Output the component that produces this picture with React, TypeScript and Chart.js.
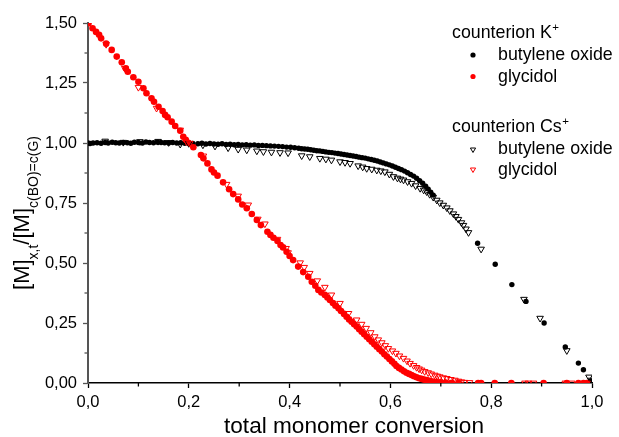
import React, { useEffect, useRef } from 'react';
import { Chart, registerables } from 'chart.js';

Chart.register(...registerables);

const FONT = '"Liberation Sans", Arial, Helvetica, sans-serif';

// ---- axis data ----
const xMinorTicks = [0.1, 0.3, 0.5, 0.7, 0.9];
const yMinorTicks = [0.125, 0.375, 0.625, 0.875, 1.125, 1.375];
const xTitle = 'total monomer conversion';

// ---- counterion K+ : butylene oxide (black filled circles) ----
const kBoX = [
  0.000, 0.004, 0.010, 0.018, 0.026, 0.034, 0.040, 0.048, 0.055, 0.062,
  0.070, 0.078, 0.085, 0.092, 0.100, 0.108, 0.115, 0.122, 0.130, 0.138,
  0.145, 0.152, 0.160, 0.168, 0.176, 0.184, 0.192, 0.200, 0.208, 0.218,
  0.226, 0.234, 0.242, 0.250, 0.258, 0.266, 0.274, 0.282, 0.290, 0.298,
  0.306, 0.314, 0.322, 0.330, 0.338, 0.346, 0.354, 0.362, 0.370, 0.378,
  0.386, 0.394, 0.402, 0.410, 0.418, 0.424, 0.430, 0.436, 0.442, 0.448,
  0.454, 0.460, 0.466, 0.472, 0.478, 0.484, 0.490, 0.496, 0.502, 0.508,
  0.514, 0.520, 0.526, 0.532, 0.538, 0.544, 0.550, 0.556, 0.562, 0.568,
  0.574, 0.580, 0.586, 0.592, 0.598, 0.604, 0.610, 0.616, 0.622, 0.628,
  0.634, 0.640, 0.646, 0.652, 0.658, 0.664, 0.670, 0.675, 0.680, 0.685,
  0.773, 0.808, 0.841, 0.869, 0.905, 0.947, 0.973, 0.983, 0.998,
];
const kBoY = [
  1.000, 0.998, 1.000, 1.001, 0.999, 1.002, 1.000, 1.003, 1.001, 1.000,
  1.002, 1.001, 0.999, 1.003, 1.002, 1.000, 1.004, 1.002, 1.001, 1.003,
  1.002, 1.001, 1.000, 1.002, 1.000, 1.001, 0.999, 1.000, 0.998, 0.997,
  0.999, 0.996, 0.998, 0.996, 0.995, 0.997, 0.994, 0.995, 0.993, 0.994,
  0.992, 0.993, 0.991, 0.992, 0.990, 0.990, 0.989, 0.988, 0.987, 0.986,
  0.985, 0.983, 0.982, 0.980, 0.978, 0.976, 0.975, 0.974, 0.972, 0.970,
  0.968, 0.967, 0.965, 0.963, 0.961, 0.960, 0.958, 0.956, 0.954, 0.952,
  0.950, 0.948, 0.946, 0.944, 0.941, 0.939, 0.937, 0.934, 0.931, 0.928,
  0.925, 0.921, 0.917, 0.913, 0.909, 0.904, 0.899, 0.894, 0.889, 0.883,
  0.876, 0.869, 0.862, 0.853, 0.843, 0.832, 0.820, 0.808, 0.795, 0.783,
  0.582, 0.495, 0.410, 0.340, 0.250, 0.150, 0.083, 0.055, 0.008,
];

// ---- counterion K+ : glycidol (red filled circles) ----
const kGlyX = [
  0.001, 0.009, 0.016, 0.022, 0.026, 0.036, 0.047, 0.057, 0.067, 0.075,
  0.079, 0.090, 0.100, 0.110, 0.116, 0.126, 0.131, 0.140, 0.148, 0.153,
  0.158, 0.166, 0.173, 0.183, 0.189, 0.194, 0.199, 0.209, 0.224, 0.229,
  0.237, 0.245, 0.250, 0.257, 0.268, 0.280, 0.288, 0.298, 0.306, 0.315,
  0.325, 0.335, 0.343, 0.356, 0.362, 0.368, 0.376, 0.382, 0.387, 0.394,
  0.400, 0.407, 0.417, 0.427, 0.437, 0.444, 0.451, 0.457, 0.463, 0.470,
  0.475, 0.480, 0.486, 0.491, 0.497, 0.502, 0.508, 0.513, 0.518, 0.523,
  0.528, 0.533, 0.538, 0.543, 0.548, 0.553, 0.558, 0.563, 0.568, 0.573,
  0.578, 0.583, 0.588, 0.593, 0.598, 0.603, 0.608, 0.612, 0.617, 0.622,
  0.627, 0.632, 0.637, 0.642, 0.647, 0.652, 0.657, 0.662, 0.667, 0.672,
  0.677, 0.681, 0.685, 0.692, 0.700, 0.710, 0.722, 0.735, 0.774, 0.780,
  0.807, 0.840, 0.904, 0.950, 0.973, 0.983, 0.990,
];
const kGlyY = [
  1.499, 1.478, 1.463, 1.451, 1.436, 1.414, 1.388, 1.360, 1.336, 1.311,
  1.297, 1.274, 1.255, 1.228, 1.207, 1.186, 1.172, 1.151, 1.133, 1.117,
  1.107, 1.089, 1.071, 1.051, 1.026, 1.013, 1.001, 0.982, 0.950, 0.936,
  0.915, 0.890, 0.877, 0.864, 0.836, 0.807, 0.787, 0.765, 0.744, 0.728,
  0.704, 0.679, 0.658, 0.630, 0.617, 0.605, 0.592, 0.575, 0.565, 0.547,
  0.529, 0.512, 0.485, 0.462, 0.443, 0.422, 0.405, 0.388, 0.377, 0.367,
  0.356, 0.346, 0.333, 0.322, 0.311, 0.300, 0.288, 0.276, 0.265, 0.255,
  0.245, 0.235, 0.224, 0.214, 0.203, 0.193, 0.182, 0.172, 0.161, 0.151,
  0.141, 0.131, 0.120, 0.110, 0.100, 0.090, 0.080, 0.071, 0.063, 0.056,
  0.049, 0.043, 0.038, 0.033, 0.028, 0.024, 0.020, 0.017, 0.014, 0.012,
  0.009, 0.007, 0.005, 0.004, 0.003, 0.002, 0.001, 0.000, 0.000, 0.000,
  0.000, 0.000, 0.000, 0.000, 0.000, 0.000, 0.000,
];

// ---- counterion Cs+ : butylene oxide (black open triangles) ----
const csBoX = [
  0.034, 0.070, 0.103, 0.139, 0.160, 0.183, 0.200, 0.228, 0.252, 0.278,
  0.298, 0.315, 0.335, 0.348, 0.364, 0.381, 0.397, 0.424, 0.440, 0.460,
  0.472, 0.483, 0.500, 0.510, 0.520, 0.536, 0.545, 0.553, 0.563, 0.573,
  0.581, 0.589, 0.598, 0.606, 0.614, 0.620, 0.626, 0.634, 0.642, 0.650,
  0.659, 0.666, 0.672, 0.678, 0.685, 0.692, 0.698, 0.705, 0.712, 0.718,
  0.725, 0.730, 0.735, 0.741, 0.745, 0.750, 0.755,
  0.780, 0.865, 0.897, 0.950, 0.994, 0.998,
];
const csBoY = [
  1.008, 1.003, 1.006, 1.007, 1.002, 0.995, 0.998, 0.992, 0.987, 0.980,
  0.974, 0.971, 0.967, 0.964, 0.962, 0.960, 0.959, 0.947, 0.943, 0.936,
  0.933, 0.929, 0.922, 0.919, 0.915, 0.905, 0.900, 0.894, 0.891, 0.887,
  0.884, 0.880, 0.870, 0.860, 0.854, 0.850, 0.846, 0.839, 0.832, 0.822,
  0.811, 0.804, 0.797, 0.786, 0.774, 0.762, 0.751, 0.741, 0.730, 0.718,
  0.705, 0.694, 0.682, 0.668, 0.657, 0.642, 0.627,
  0.558, 0.349, 0.270, 0.135, 0.025, 0.012,
];

// ---- counterion Cs+ : glycidol (red open triangles) ----
const csGlyX = [
  0.036, 0.073, 0.100, 0.136, 0.183, 0.202, 0.229, 0.275, 0.298, 0.318,
  0.337, 0.351, 0.376, 0.393, 0.397, 0.421, 0.429, 0.440, 0.455, 0.470,
  0.483, 0.500, 0.517, 0.533, 0.543, 0.552, 0.561, 0.569, 0.576, 0.583,
  0.590, 0.596, 0.604, 0.611, 0.618, 0.626, 0.633, 0.639, 0.646, 0.652,
  0.657, 0.662, 0.668, 0.675, 0.681, 0.688, 0.693, 0.698, 0.705, 0.712,
  0.720, 0.728, 0.735, 0.741, 0.747, 0.757, 0.867, 0.874, 0.884, 0.947,
  0.960, 0.990,
];
const csGlyY = [
  1.411, 1.311, 1.232, 1.145, 1.054, 0.999, 0.946, 0.828, 0.779, 0.742,
  0.683, 0.663, 0.599, 0.561, 0.543, 0.501, 0.482, 0.457, 0.426, 0.399,
  0.367, 0.332, 0.290, 0.263, 0.245, 0.228, 0.210, 0.193, 0.180, 0.168,
  0.156, 0.144, 0.134, 0.124, 0.113, 0.103, 0.092, 0.082, 0.073, 0.065,
  0.059, 0.054, 0.048, 0.043, 0.038, 0.033, 0.029, 0.026, 0.022, 0.019,
  0.015, 0.012, 0.008, 0.005, 0.003, 0.002, 0.000, 0.000, 0.000, 0.000,
  0.000, 0.000,
];

const zip = (xs: number[], ys: number[]) => xs.map((x, i) => ({ x, y: ys[i] }));

function drawTriangleDown(ctx: CanvasRenderingContext2D, x: number, y: number, r: number, color: string) {
  ctx.beginPath();
  ctx.moveTo(x, y + r);
  ctx.lineTo(x - r * 0.866, y - r * 0.5);
  ctx.lineTo(x + r * 0.866, y - r * 0.5);
  ctx.closePath();
  ctx.strokeStyle = color;
  ctx.lineWidth = 1;
  ctx.stroke();
}

const decorPlugin = {
  id: 'decor',
  afterDraw(chart: any) {
    const ctx: CanvasRenderingContext2D = chart.ctx;
    const xs = chart.scales.x;
    const ys = chart.scales.y;
    ctx.save();

    // minor ticks
    ctx.lineWidth = 1.3;
    ctx.strokeStyle = '#000';
    for (const v of xMinorTicks) {
      const px = xs.getPixelForValue(v);
      ctx.beginPath();
      ctx.moveTo(px, xs.top);
      ctx.lineTo(px, xs.top + 3.5);
      ctx.stroke();
    }
    ctx.strokeStyle = '#555';
    for (const v of yMinorTicks) {
      const py = ys.getPixelForValue(v);
      ctx.beginPath();
      ctx.moveTo(ys.right, py);
      ctx.lineTo(ys.right - 3.5, py);
      ctx.stroke();
    }

    // x title
    ctx.fillStyle = '#000';
    ctx.font = `22.6px ${FONT}`;
    ctx.textAlign = 'center';
    ctx.textBaseline = 'alphabetic';
    ctx.fillText(xTitle, 354, 433);

    // y title with subscripts
    const parts = [
      { t: '[M]', sub: false },
      { t: 'x,t', sub: true },
      { t: '/[M]', sub: false },
      { t: 'c(BO)=c(G)', sub: true },
    ];
    const mainFont = `22px ${FONT}`;
    const subFont = `14px ${FONT}`;
    let total = 0;
    const widths = parts.map((p) => {
      ctx.font = p.sub ? subFont : mainFont;
      const w = ctx.measureText(p.t).width;
      total += w;
      return w;
    });
    ctx.save();
    ctx.translate(29, 213);
    ctx.rotate(-Math.PI / 2);
    ctx.textAlign = 'left';
    let cx = -total / 2;
    parts.forEach((p, i) => {
      ctx.font = p.sub ? subFont : mainFont;
      ctx.fillText(p.t, cx, p.sub ? 9 : 0);
      cx += widths[i];
    });
    ctx.restore();

    // legend
    const legFont = `17.8px ${FONT}`;
    const supFont = `11.5px ${FONT}`;
    ctx.textAlign = 'left';
    const drawTitle = (txt: string, y: number) => {
      ctx.font = legFont;
      ctx.fillStyle = '#000';
      ctx.fillText(txt, 452, y);
      const w = ctx.measureText(txt).width;
      ctx.font = supFont;
      ctx.fillText('+', 452 + w + 0.5, y - 7);
    };
    const drawLabel = (txt: string, y: number) => {
      ctx.font = legFont;
      ctx.fillStyle = '#000';
      ctx.fillText(txt, 498, y);
    };
    const drawDot = (y: number, color: string) => {
      ctx.beginPath();
      ctx.arc(473, y, 2.6, 0, Math.PI * 2);
      ctx.fillStyle = color;
      ctx.fill();
    };
    drawTitle('counterion K', 38);
    drawDot(55, '#000');
    drawLabel('butylene oxide', 60);
    drawDot(76.5, '#ff0000');
    drawLabel('glycidol', 81.5);
    drawTitle('counterion Cs', 131.5);
    drawTriangleDown(ctx, 473, 149.5, 3, '#000');
    drawLabel('butylene oxide', 153.5);
    drawTriangleDown(ctx, 473, 169.5, 3, '#ff0000');
    drawLabel('glycidol', 175);

    ctx.restore();
  },
};

export default function App() {
  const ref = useRef<HTMLCanvasElement | null>(null);

  useEffect(() => {
    if (!ref.current) return;
    Chart.defaults.font.family = FONT;
    const chart = new Chart(ref.current, {
      type: 'scatter',
      data: {
        datasets: [
          {
            label: 'Cs glycidol',
            data: zip(csGlyX, csGlyY),
            pointStyle: 'triangle',
            pointRotation: 180,
            radius: 3.8,
            borderWidth: 1,
            borderColor: '#ff0000',
            backgroundColor: 'rgba(0,0,0,0)',
          },
          {
            label: 'Cs butylene oxide',
            data: zip(csBoX, csBoY),
            pointStyle: 'triangle',
            pointRotation: 180,
            radius: 3.8,
            borderWidth: 1,
            borderColor: '#000000',
            backgroundColor: 'rgba(0,0,0,0)',
          },
          {
            label: 'K glycidol',
            data: zip(kGlyX, kGlyY),
            pointStyle: 'circle',
            radius: 3.3,
            borderWidth: 0,
            backgroundColor: '#ff0000',
            borderColor: '#ff0000',
          },
          {
            label: 'K butylene oxide',
            data: zip(kBoX, kBoY),
            pointStyle: 'circle',
            radius: 2.7,
            borderWidth: 0,
            backgroundColor: '#000000',
            borderColor: '#000000',
          },
        ],
      },
      options: {
        responsive: false,
        animation: false,
        events: [],
        layout: { padding: { top: 23, right: 27, left: 0, bottom: 0 } },
        plugins: {
          legend: { display: false },
          tooltip: { enabled: false },
        },
        scales: {
          x: {
            type: 'linear',
            min: 0,
            max: 1,
            afterFit: (s: any) => {
              s.height = 54;
            },
            border: { display: true, color: '#000', width: 1.5 },
            grid: {
              display: true,
              drawOnChartArea: false,
              drawTicks: true,
              tickLength: 5,
              tickColor: '#000',
              tickWidth: 1.3,
            },
            ticks: {
              stepSize: 0.2,
              padding: 5,
              color: '#000',
              maxRotation: 0,
              autoSkip: false,
              font: { size: 16.5, family: FONT },
              callback: (v: any) => Number(v).toFixed(1).replace('.', ','),
            },
          },
          y: {
            type: 'linear',
            min: 0,
            max: 1.5,
            afterFit: (s: any) => {
              s.width = 88;
            },
            border: { display: true, color: '#555', width: 2 },
            grid: {
              display: true,
              drawOnChartArea: false,
              drawTicks: true,
              tickLength: 5,
              tickColor: '#555',
              tickWidth: 1.3,
            },
            ticks: {
              stepSize: 0.25,
              padding: 6,
              color: '#000',
              autoSkip: false,
              font: { size: 16.5, family: FONT },
              callback: (v: any) => Number(v).toFixed(2).replace('.', ','),
            },
          },
        },
      },
      plugins: [decorPlugin],
    });
    return () => chart.destroy();
  }, []);

  return (
    <div style={{ position: 'fixed', left: 0, top: 0, width: 619, height: 437, background: '#fff' }}>
      <canvas ref={ref} width={619} height={437} style={{ display: 'block' }} />
    </div>
  );
}
